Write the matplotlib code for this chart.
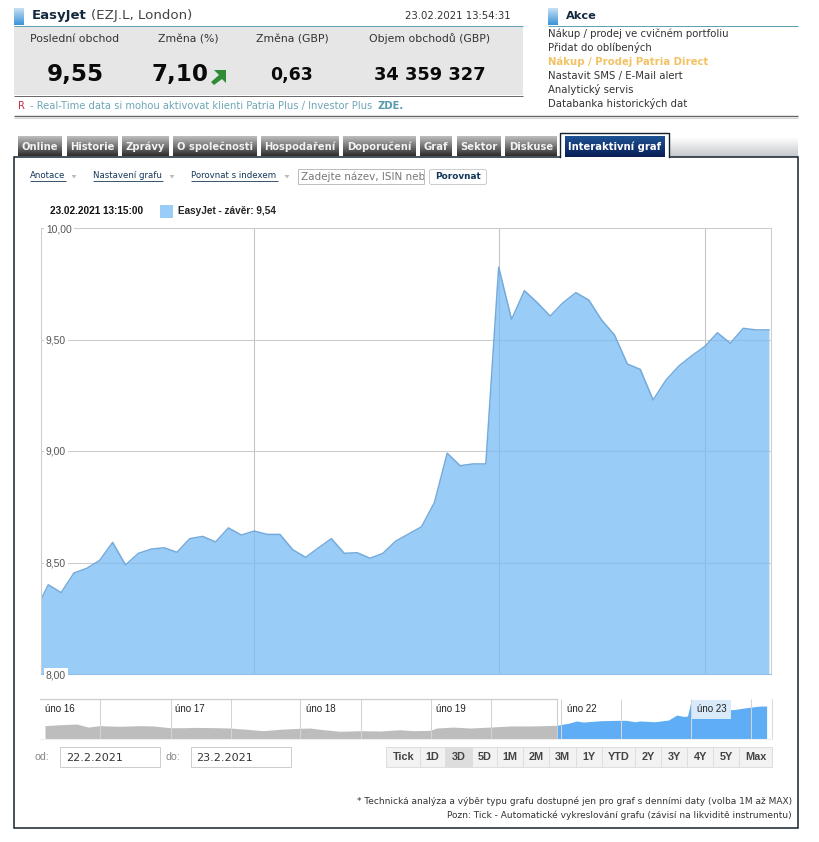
import numpy as np
import matplotlib
matplotlib.use("Agg")
import matplotlib.pyplot as plt
from matplotlib.colors import LinearSegmentedColormap
from matplotlib.patches import Rectangle, Polygon, FancyBboxPatch

# main chart, x in steps of the intraday series (first point is a short one)
price_x = [-0.6] + list(range(57))
price = [8.33, 8.40, 8.365, 8.453, 8.474, 8.51, 8.59, 8.489, 8.541, 8.56, 8.566,
         8.546, 8.607, 8.617, 8.592, 8.655, 8.623, 8.641, 8.626, 8.626, 8.557,
         8.523, 8.566, 8.607, 8.541, 8.544, 8.519, 8.541, 8.596, 8.628, 8.66,
         8.768, 8.99, 8.934, 8.942, 8.942, 9.824, 9.59, 9.719, 9.665, 9.605,
         9.665, 9.71, 9.677, 9.587, 9.52, 9.39, 9.366, 9.229, 9.318, 9.381,
         9.427, 9.468, 9.53, 9.483, 9.55, 9.543, 9.543]
y_ticks = [8.0, 8.5, 9.0, 9.5, 10.0]
y_labels = ["8,00", "8,50", "9,00", "9,50", "10,00"]
x_grid = [16, 35, 51.07]

# navigator, x in days from the first session
nav_t = [0, 0.115, 0.243, 0.332, 0.422, 0.575, 0.716, 0.831, 0.959, 1.061, 1.163,
         1.317, 1.419, 1.547, 1.674, 1.802, 1.955, 2.032, 2.109, 2.262, 2.416,
         2.569, 2.722, 2.825, 2.952, 3.003, 3.131, 3.259, 3.413, 3.566, 3.719, 3.924]
nav_val = [8.36, 8.42, 8.465, 8.27, 8.36, 8.32, 8.36, 8.34, 8.23, 8.23, 8.25,
           8.23, 8.21, 8.13, 8.04, 8.13, 8.19, 8.21, 8.13, 8.0, 8.04,
           8.02, 8.10, 8.04, 8.06, 8.21, 8.27, 8.21, 8.27, 8.34, 8.34, 8.38]
sel_t = [3.924, 3.962, 4.013, 4.077, 4.128, 4.269, 4.396, 4.46, 4.524, 4.563, 4.678,
         4.781, 4.845, 4.896, 4.927, 4.954, 4.98, 5.279, 5.381, 5.42, 5.483, 5.534]
sel_val = [8.38, 8.44, 8.51, 8.66, 8.59, 8.68, 8.70, 8.70, 8.61, 8.66, 8.61,
           8.72, 9.04, 8.95, 8.97, 9.93, 9.46, 9.38, 9.51, 9.55, 9.61, 9.61]
nav_days = ["úno 16", "úno 17", "úno 18", "úno 19", "úno 22", "úno 23"]
nav_day_t = [0, 1, 2, 3, 4, 5]
nav_grid = [0.422, 0.963, 1.423, 1.959, 2.42, 2.959, 3.42, 3.96, 4.417, 4.954, 5.417]

tabs = ["Online", "Historie", "Zprávy", "O společnosti", "Hospodaření", "Doporučení",
        "Graf", "Sektor", "Diskuse"]
tab_edges = [(18, 62), (67, 118), (122, 169), (173, 257), (261, 339), (343, 416),
             (420, 452), (457, 501), (505, 557)]
ranges = ["Tick", "1D", "3D", "5D", "1M", "2M", "3M", "1Y", "YTD", "2Y", "3Y", "4Y", "5Y", "Max"]
range_edges = [386.5, 420, 445, 471.7, 497.3, 523.3, 549.3, 575.7, 602.3, 635.3, 661.3,
               687.3, 713.3, 739.3, 771.7]
actions = ["Nákup / prodej ve cvičném portfoliu", "Přidat do oblíbených",
           "Nákup / Prodej Patria Direct", "Nastavit SMS / E-Mail alert",
           "Analytický servis", "Databanka historických dat"]

W, H = 820, 842
fig = plt.figure(figsize=(W / 100, H / 100), dpi=100, facecolor="white")

ui = fig.add_axes([0, 0, 1, 1], zorder=0)
ui.set_xlim(0, W)
ui.set_ylim(H, 0)
ui.axis("off")
ui.set_autoscale_on(False)


def label(x, y, s, size=7.8, color="#333333", weight="normal", ha="left", family="DejaVu Sans", **kw):
    return ui.text(x, y, s, fontsize=size, color=color, fontweight=weight, ha=ha, va="center",
                   family=family, **kw)


def gradient(x0, y0, x1, y1, top, bottom, z=1):
    cmap = LinearSegmentedColormap.from_list("g", [top, bottom])
    ui.imshow(np.linspace(0, 1, 32)[:, None], cmap=cmap, extent=(x0, x1, y1, y0),
              aspect="auto", zorder=z, interpolation="bilinear")


def box(x0, y0, x1, y1, face="white", edge="none", lw=0.7, z=1):
    ui.add_patch(Rectangle((x0, y0), x1 - x0, y1 - y0, facecolor=face, edgecolor=edge, linewidth=lw, zorder=z))


def hline(x0, x1, y, color, lw=0.7, z=2):
    ui.plot([x0, x1], [y, y], color=color, lw=lw, zorder=z, solid_capstyle="butt")


# header block
gradient(14, 8, 24, 25, "#C5E0F5", "#3A93D8")
hline(14, 523, 25.5, "#5E9FB2")
label(32, 16, "EasyJet", size=9.5, color="#14293F", weight="bold")
label(91, 16, "(EZJ.L, London)", size=9.6, color="#444444")
label(511, 16, "23.02.2021 13:54:31", size=7.3, color="#333333", ha="right")
box(14, 26, 523, 95, face="#E6E6E6")
hline(14, 523, 95.5, "#666666")
label(75, 39, "Poslední obchod", ha="center")
label(188, 39, "Změna (%)", ha="center")
label(292.5, 39, "Změna (GBP)", ha="center")
label(430, 39, "Objem obchodů (GBP)", ha="center")
label(75, 75, "9,55", size=16.6, color="#0A0A0A", weight="bold", ha="center")
label(180, 75, "7,10", size=16.6, color="#0A0A0A", weight="bold", ha="center")
label(292, 75, "0,63", size=12.5, color="#0A0A0A", weight="bold", ha="center")
label(430, 75, "34 359 327", size=12.9, color="#0A0A0A", weight="bold", ha="center")
ui.add_patch(Polygon([(214, 70), (226, 70), (226, 83), (222, 79), (214, 85), (211, 82), (219, 75)],
                     facecolor="#2F8B36", edgecolor="none", zorder=3))
label(18, 106, "R", size=7.2, color="#C8284A")
label(30, 106, "- Real-Time data si mohou aktivovat klienti Patria Plus / Investor Plus", size=7.2, color="#6FA6B6")
label(378, 106, "ZDE.", size=7.2, color="#5A9DB0", weight="bold")
hline(14, 798, 116, "#666666", lw=1.0)
hline(14, 798, 117.5, "#D8D8D8", lw=0.8)

# actions block
gradient(548, 8, 558, 25, "#C5E0F5", "#3A93D8")
hline(548, 798, 25.5, "#5E9FB2")
label(566, 16, "Akce", size=8.2, color="#14293F", weight="bold")
for i, s in enumerate(actions):
    if i == 2:
        label(548, 33.5 + 14 * i, s, size=7.3, color="#F2C265", weight="bold")
    else:
        label(548, 33.5 + 14 * i, s, size=7.3, color="#333333")

# tabs and frame
gradient(669, 137, 798, 157, "#FFFFFF", "#C4C8CC")
box(14.5, 156.5, 798, 828, face="white", edge="#14222E", lw=1.1, z=1.5)
for s, (x0, x1) in zip(tabs, tab_edges):
    gradient(x0, 136, x1, 156, "#BDBDBD", "#2E2E2E")
    label((x0 + x1) / 2, 146.5, s, size=7.2, color="#F2F2F2", weight="bold", ha="center", zorder=4)
box(560, 132, 669, 158, face="white", edge="none", z=2)
ui.plot([560, 560, 669, 669], [156.5, 132.5, 132.5, 156.5], color="#14222E", lw=1.0, zorder=3)
gradient(565, 136, 665, 157, "#1D5293", "#0A1F57", z=2.5)
label(615, 146.5, "Interaktivní graf", size=7.2, color="white", weight="bold", ha="center", zorder=4)

# toolbar
for x0, x1, s, ax_x in [(30, 66, "Anotace", 74), (93, 163, "Nastavení grafu", 172), (191, 278, "Porovnat s indexem", 287)]:
    label(x0, 175.5, s, size=6.2, color="#14375A")
    hline(x0, x1, 180.5, "#14375A", lw=0.6)
    ui.add_patch(Polygon([(ax_x - 2.5, 175), (ax_x + 2.5, 175), (ax_x, 178.5)], facecolor="#BBBBBB", edgecolor="none", zorder=3))
box(298, 169, 424, 184, face="white", edge="#BBBBBB", z=2)
hint = label(301, 176.5, "Zadejte název, ISIN nebo", size=7.5, color="#777777", zorder=3)
hint.set_clip_path(Rectangle((298, 169), 126, 15, transform=ui.transData))
hint.set_clip_on(True)
ui.add_patch(FancyBboxPatch((429.5, 169.5), 57, 15, boxstyle="round,pad=0,rounding_size=2", facecolor="white",
                            edgecolor="#CCCCCC", linewidth=0.7, zorder=2))
label(458, 176.5, "Porovnat", size=6.4, color="#14375A", weight="bold", ha="center", zorder=3)

# chart legend line
label(50, 211, "23.02.2021 13:15:00", size=7.2, color="#111111", weight="bold", family="Liberation Sans")
box(160, 205, 173, 218, face="#99CCF7", z=3)
label(178, 211, "EasyJet - závěr: 9,54", size=7.2, color="#222222", weight="bold", family="Liberation Sans")

# main chart
ax = fig.add_axes([41 / W, 1 - 674 / H, 730 / W, 446 / H], zorder=2)
ax.set_axisbelow(False)
ax.set_xlim(-0.567, 56.16)
ax.set_ylim(8, 10)
ax.hlines(y_ticks, -0.567, 56.16, color="#CCCCCC", lw=0.75, zorder=1)
ax.vlines(x_grid, 8, 10, color="#C4C4C4", lw=0.75, zorder=1)
ax.fill_between(price_x, price, 8, color="#77BBF4", alpha=0.75, lw=0, zorder=2)
ax.plot(price_x, price, color="#74ABDB", lw=1.1, zorder=2.2)
ax.set_xticks([])
ax.set_yticks(y_ticks)
ax.set_yticklabels(y_labels, family="Liberation Sans", fontsize=7.4, color="#555555", ha="left",
                   bbox=dict(facecolor="white", edgecolor="none", pad=1.5))
ax.tick_params(axis="y", length=0, pad=-3.5)
for name in ["left", "top", "right"]:
    ax.spines[name].set_color("#CCCCCC")
    ax.spines[name].set_linewidth(0.75)
ax.spines["bottom"].set_color("#8FBFE8")
ax.spines["bottom"].set_linewidth(0.75)

# navigator
nav = fig.add_axes([40 / W, 1 - 739 / H, 731.7 / W, 40 / H], zorder=2)
nav.set_xlim(-0.0383, 5.573)
nav.set_ylim(7.51, 10.06)
nav.fill_between(nav_t, nav_val, 7.51, color="#BDBDBD", lw=0, zorder=2)
nav.fill_between(sel_t, sel_val, 7.51, color="#5FAEF5", lw=0, zorder=2)
nav.vlines(nav_grid, 7.51, 10.06, color="#D4D4D4", lw=0.75, zorder=3)
nav.set_xticks([])
nav.set_yticks([])
for name in ["left", "top"]:
    nav.spines[name].set_visible(False)
nav.spines["right"].set_color("#DDDDDD")
nav.spines["bottom"].set_color("#EEEEEE")
nav.plot([-0.0383, 3.924], [10.06, 10.06], color="#CCCCCC", lw=0.9, zorder=3, clip_on=False)
nav.vlines([3.924], 7.51, 10.06, color="#CCCCCC", lw=0.75, zorder=3)
for s, t in zip(nav_days, nav_day_t):
    bg = dict(facecolor="#D9EBFB", edgecolor="none", pad=3.4) if s == "úno 23" else None
    nav.text(t, 9.4, s, fontsize=7.0, family="Liberation Sans", color="#222222", ha="left", va="center",
             zorder=5, bbox=bg)

# date fields and range buttons
label(35, 756.5, "od:", size=7.6, color="#888888", family="Liberation Sans")
box(60, 747, 160, 767, face="white", edge="#CCCCCC", z=2)
label(66, 758, "22.2.2021", size=8.0, color="#333333", zorder=3)
label(166, 756.5, "do:", size=7.6, color="#888888", family="Liberation Sans")
box(191, 747, 291, 767, face="white", edge="#CCCCCC", z=2)
label(196, 758, "23.2.2021", size=8.0, color="#333333", zorder=3)
for i, s in enumerate(ranges):
    x0, x1 = range_edges[i], range_edges[i + 1]
    box(x0, 747, x1, 767, face="#DDDDDD" if s == "3D" else "#F2F2F2", edge="#DEDEDE", z=2)
    label((x0 + x1) / 2, 757.5, s, size=7.8, color="#444444", weight="bold", ha="center",
          family="Liberation Sans", zorder=3)

# notes
label(792, 801, "* Technická analýza a výběr typu grafu dostupné jen pro graf s denními daty (volba 1M až MAX)",
      size=6.53, color="#333333", ha="right")
label(792, 815, "Pozn: Tick - Automatické vykreslování grafu (závisí na likviditě instrumentu)",
      size=6.53, color="#333333", ha="right")

ui.set_xlim(0, W)
ui.set_ylim(H, 0)
fig.savefig("out.png", dpi=100)
